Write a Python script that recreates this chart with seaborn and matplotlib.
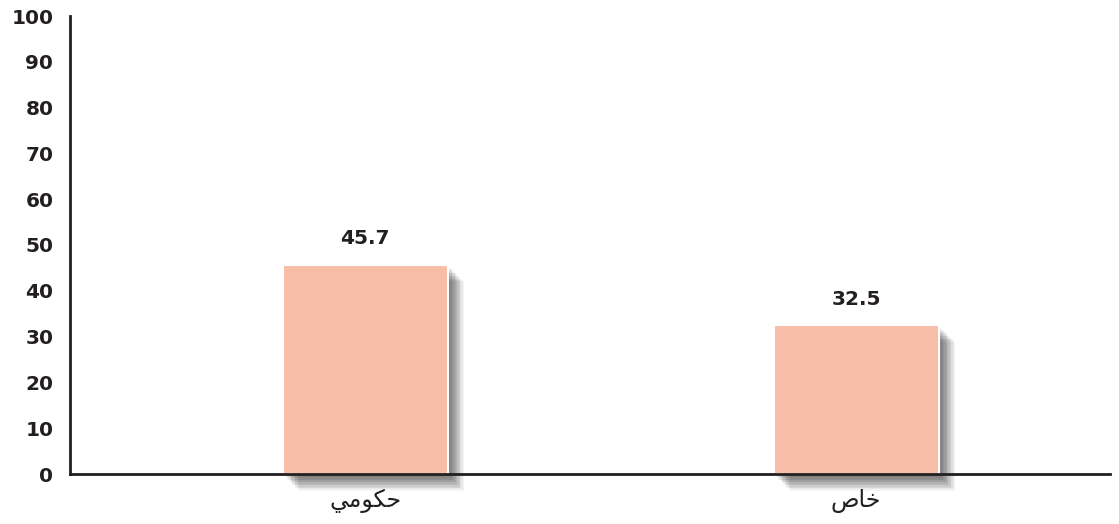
import matplotlib
matplotlib.use("Agg")
import matplotlib.pyplot as plt
import matplotlib.patheffects as pe
import seaborn as sns
import pandas as pd

categories = ["حكومي", "خاص"]
values = [45.7, 32.5]
y_ticks = [0, 10, 20, 30, 40, 50, 60, 70, 80, 90, 100]

# minimal Arabic shaping (contextual forms + visual order) for matplotlib
FORMS = {  # iso, fin, ini, med (None for right-joining letters)
    "\u0627": ("\uFE8D", "\uFE8E", None, None),
    "\u0648": ("\uFEED", "\uFEEE", None, None),
    "\u062D": ("\uFEA1", "\uFEA2", "\uFEA3", "\uFEA4"),
    "\u062E": ("\uFEA5", "\uFEA6", "\uFEA7", "\uFEA8"),
    "\u0635": ("\uFEB9", "\uFEBA", "\uFEBB", "\uFEBC"),
    "\u0643": ("\uFED9", "\uFEDA", "\uFEDB", "\uFEDC"),
    "\u0645": ("\uFEE1", "\uFEE2", "\uFEE3", "\uFEE4"),
    "\u064A": ("\uFEF1", "\uFEF2", "\uFEF3", "\uFEF4"),
}

def shape(word):
    out = []
    n = len(word)
    for i, ch in enumerate(word):
        f = FORMS.get(ch)
        if f is None:
            out.append(ch)
            continue
        prev_joins = i > 0 and word[i - 1] in FORMS and FORMS[word[i - 1]][2] is not None
        next_joins = i < n - 1 and word[i + 1] in FORMS and f[2] is not None
        if prev_joins and next_joins:
            out.append(f[3])
        elif prev_joins:
            out.append(f[1])
        elif next_joins:
            out.append(f[2])
        else:
            out.append(f[0])
    return "".join(reversed(out))

df = pd.DataFrame({"cat": categories, "val": values})

sns.set_style("white")
plt.rcParams["font.family"] = ["DejaVu Sans"]

fig = plt.figure(figsize=(11.19, 5.24), dpi=100)
ax = fig.add_axes([70 / 1119, 50 / 524, 1040 / 1119, 458 / 524])

sns.barplot(data=df, x="cat", y="val", color="#F8BDA7", width=0.336,
            edgecolor="white", linewidth=1.5, saturation=1, ax=ax)

shadow = [pe.SimplePatchShadow(offset=(d, -d), shadow_rgbFace="black", alpha=0.045)
          for d in (2, 3, 4, 5, 6, 7, 8, 9, 10, 11, 12)]
shadow += [pe.SimplePatchShadow(offset=(d, -d - 1), shadow_rgbFace="black", alpha=0.04)
           for d in (3, 5, 7, 9)]
for p in ax.patches:
    p.set_path_effects(shadow + [pe.Normal()])
    p.set_clip_on(False)
    p.set_zorder(3)

for p, v in zip(ax.patches, values):
    ax.text(p.get_x() + p.get_width() / 2, v + 3.6, f"{v:.1f}", ha="center",
            va="bottom", fontsize=14.5, fontweight="bold", color="#231F20")

ax.set_xlim(-0.601, 1.517)
ax.set_ylim(0, 100)
ax.set_yticks(y_ticks)
ax.set_yticklabels([str(t) for t in y_ticks], fontsize=14.5, fontweight="bold", color="#231F20")
ax.set_xticks(range(len(categories)))
ax.set_xticklabels([shape(c) for c in categories], fontsize=17, color="#231F20")
ax.tick_params(axis="y", direction="in", length=5, width=1.5, color="#231F20", pad=12)
ax.tick_params(axis="x", length=0, pad=11)
ax.set_xlabel("")
ax.set_ylabel("")

for s in ["top", "right"]:
    ax.spines[s].set_visible(False)
for s in ["left", "bottom"]:
    ax.spines[s].set_color("#231F20")
    ax.spines[s].set_linewidth(2)
    ax.spines[s].set_zorder(4)

fig.savefig("out.png", dpi=100)
